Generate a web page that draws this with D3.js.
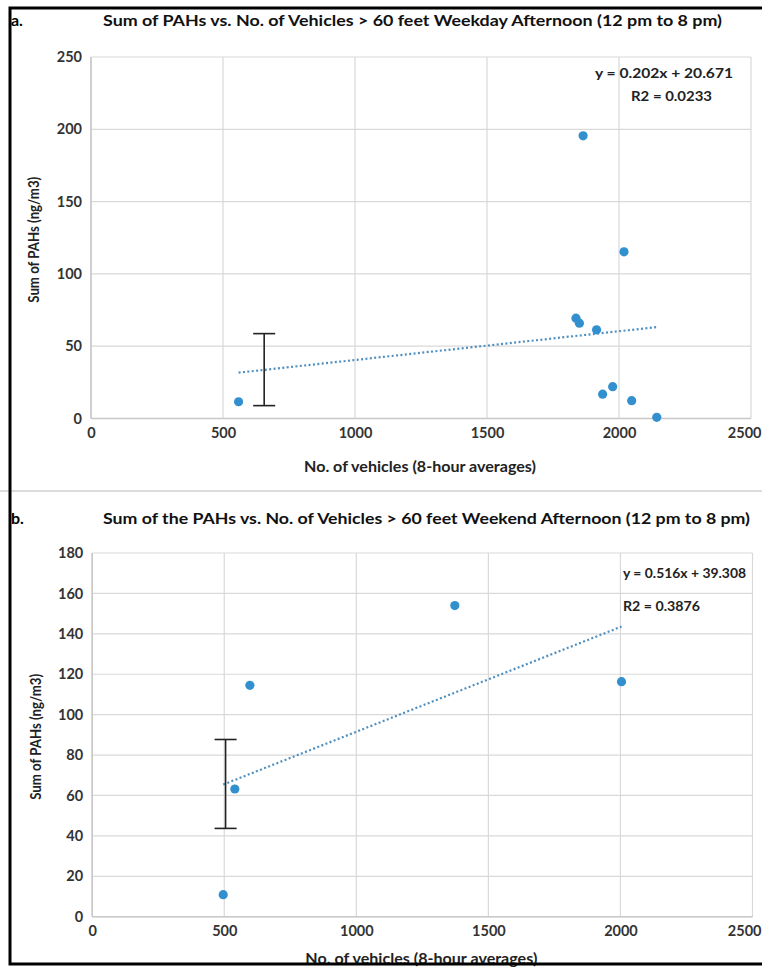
<!DOCTYPE html>
<html>
<head>
<meta charset="utf-8">
<script src="https://cdn.jsdelivr.net/npm/d3@7"></script>
<style>
  body { margin: 0; background: #fff; }
  svg { display: block; font-family: Lato, "Open Sans", sans-serif; }
</style>
</head>
<body>
<svg id="chart" width="762" height="967"></svg>
<script>
// ---- data ----
// panel a: weekday afternoon
var weekdayVehicles = [559, 1837, 1850, 1864, 1915, 1938, 1976, 2019, 2048, 2143];
var weekdayPAHs     = [11.6, 69.4, 65.9, 195.5, 61.3, 16.8, 22.0, 115.3, 12.3, 0.8];
var weekdayTrendX   = [559, 2143];
var weekdayTrendY   = [31.7, 63.2];
var weekdayErrX     = 656;
var weekdayErrY     = [8.9, 58.7];
var weekdayEquation = ["y =  0.202x + 20.671", "R2 = 0.0233"];

// panel b: weekend afternoon
var weekendVehicles = [496, 540, 597, 1373, 2004];
var weekendPAHs     = [10.9, 63.2, 114.5, 154.0, 116.3];
var weekendTrendX   = [496, 2004];
var weekendTrendY   = [65.4, 143.6];
var weekendErrX     = 505;
var weekendErrY     = [43.7, 87.7];
var weekendEquation = ["y = 0.516x + 39.308", "R2 = 0.3876"];

// axes
var xTicks        = [0, 500, 1000, 1500, 2000, 2500];
var weekdayYTicks = [0, 50, 100, 150, 200, 250];
var weekendYTicks = [0, 20, 40, 60, 80, 100, 120, 140, 160, 180];

var svg = d3.select('#chart');

svg.append('rect')
    .attr('width', 762)
    .attr('height', 967)
    .attr('fill', '#fff');

/**
 * Draws one scatter panel.
 */
function drawPanel(p) {
    var g = svg.append('g');

    var x = d3.scaleLinear().domain([0, 2500]).range([p.left, p.right]);
    var y = d3.scaleLinear().domain([0, p.yMax]).range([p.bottom, p.top]);

    // gridlines
    g.append('g').selectAll('line')
        .data(p.yTicks)
        .enter().append('line')
        .attr('x1', p.left).attr('x2', p.right)
        .attr('y1', d => y(d)).attr('y2', d => y(d))
        .attr('stroke', '#d9d9d9')
        .attr('stroke-width', 1.2);

    g.append('g').selectAll('line')
        .data(xTicks)
        .enter().append('line')
        .attr('x1', d => x(d)).attr('x2', d => x(d))
        .attr('y1', p.top).attr('y2', p.bottom)
        .attr('stroke', '#d9d9d9')
        .attr('stroke-width', 1.2);

    // axis lines
    g.append('line')
        .attr('x1', p.left).attr('x2', p.right)
        .attr('y1', p.bottom).attr('y2', p.bottom)
        .attr('stroke', '#c8c8c8').attr('stroke-width', 1.6);
    g.append('line')
        .attr('x1', p.left).attr('x2', p.left)
        .attr('y1', p.top).attr('y2', p.bottom)
        .attr('stroke', '#c8c8c8').attr('stroke-width', 1.6);

    // tick labels
    var xAxis = g.append('g')
        .attr('transform', 'translate(0,' + p.bottom + ')')
        .call(d3.axisBottom(x).tickValues(xTicks).tickFormat(d3.format('d')).tickSize(0).tickPadding(9));
    var yAxis = g.append('g')
        .attr('transform', 'translate(' + p.left + ',0)')
        .call(d3.axisLeft(y).tickValues(p.yTicks).tickFormat(d3.format('d')).tickSize(0).tickPadding(9));
    [xAxis, yAxis].forEach(function (a) {
        a.select('.domain').remove();
        a.selectAll('text')
            .attr('font-family', 'Lato, sans-serif')
            .attr('font-size', 14.5)
            .attr('font-weight', 'bold')
            .attr('fill', '#333');
    });
    // last x label sits at the right edge; keep it inside the page
    xAxis.selectAll('.tick')
        .filter(d => d === 2500)
        .select('text')
        .attr('text-anchor', 'end')
        .attr('x', 761 - x(2500));

    // trend line (dotted)
    g.append('line')
        .attr('x1', x(p.trendX[0])).attr('y1', y(p.trendY[0]))
        .attr('x2', x(p.trendX[1])).attr('y2', y(p.trendY[1]))
        .attr('stroke', '#4f8fbf')
        .attr('stroke-width', 2.2)
        .attr('stroke-dasharray', '2,2.4');

    // error bar
    var cap = 11;
    var eb = g.append('g')
        .attr('stroke', '#222')
        .attr('stroke-width', 1.6);
    eb.append('line')
        .attr('x1', x(p.errX)).attr('x2', x(p.errX))
        .attr('y1', y(p.errY[0])).attr('y2', y(p.errY[1]));
    p.errY.forEach(function (v) {
        eb.append('line')
            .attr('x1', x(p.errX) - cap).attr('x2', x(p.errX) + cap)
            .attr('y1', y(v)).attr('y2', y(v));
    });

    // points
    g.append('g').selectAll('circle')
        .data(p.xs.map((v, i) => [v, p.ys[i]]))
        .enter().append('circle')
        .attr('cx', d => x(d[0]))
        .attr('cy', d => y(d[1]))
        .attr('r', 4.6)
        .attr('fill', '#3390cf');

    // equation text
    g.selectAll('text.eq')
        .data(p.eq)
        .enter().append('text')
        .attr('class', 'eq')
        .attr('x', (d, i) => p.eqX[i])
        .attr('y', (d, i) => p.eqY[i])
        .attr('font-size', 13.5)
        .attr('font-weight', 'bold')
        .attr('fill', '#222')
        .attr('textLength', (d, i) => p.eqW[i])
        .attr('lengthAdjust', 'spacingAndGlyphs')
        .text(d => d);

    // titles
    g.append('text')
        .attr('x', p.titleX).attr('y', p.titleY)
        .attr('font-size', 15.5)
        .attr('font-weight', 'bold')
        .attr('fill', '#111')
        .attr('textLength', p.titleW)
        .attr('lengthAdjust', 'spacingAndGlyphs')
        .text(p.title);

    g.append('text')
        .attr('x', 11).attr('y', p.titleY)
        .attr('font-size', 16)
        .attr('font-weight', 'bold')
        .attr('fill', '#000')
        .text(p.tag);

    g.append('text')
        .attr('x', (p.left + p.right) / 2 - 1)
        .attr('y', p.xTitleY)
        .attr('text-anchor', 'middle')
        .attr('font-size', 16)
        .attr('font-weight', 'bold')
        .attr('fill', '#222')
        .attr('textLength', 232)
        .attr('lengthAdjust', 'spacingAndGlyphs')
        .text('No. of vehicles (8-hour averages)');

    g.append('text')
        .attr('transform', 'translate(' + p.yTitleX + ',' + ((p.top + p.bottom) / 2 + 2) + ') rotate(-90)')
        .attr('text-anchor', 'middle')
        .attr('font-size', 16)
        .attr('font-weight', 'bold')
        .attr('fill', '#222')
        .attr('textLength', 126)
        .attr('lengthAdjust', 'spacingAndGlyphs')
        .text('Sum of PAHs (ng/m3)');
}

drawPanel({
    tag: 'a.',
    title: 'Sum of PAHs vs. No. of Vehicles > 60 feet Weekday Afternoon (12 pm to 8 pm)',
    titleX: 103, titleY: 26, titleW: 619,
    left: 91, right: 751, top: 57, bottom: 418.5,
    yMax: 250, yTicks: weekdayYTicks,
    xs: weekdayVehicles, ys: weekdayPAHs,
    trendX: weekdayTrendX, trendY: weekdayTrendY,
    errX: weekdayErrX, errY: weekdayErrY,
    eq: weekdayEquation, eqX: [595, 631], eqY: [78, 101], eqW: [138, 81],
    xTitleY: 472, yTitleX: 39
});

drawPanel({
    tag: 'b.',
    title: 'Sum of the PAHs vs. No. of Vehicles > 60 feet Weekend Afternoon (12 pm to 8 pm)',
    titleX: 103, titleY: 524, titleW: 647,
    left: 92.2, right: 752.5, top: 553, bottom: 916.7,
    yMax: 180, yTicks: weekendYTicks,
    xs: weekendVehicles, ys: weekendPAHs,
    trendX: weekendTrendX, trendY: weekendTrendY,
    errX: weekendErrX, errY: weekendErrY,
    eq: weekendEquation, eqX: [623, 623], eqY: [578, 611], eqW: [123, 77],
    xTitleY: 964, yTitleX: 41
});

// frame around both panels
svg.append('line')
    .attr('x1', 0).attr('x2', 762).attr('y1', 491).attr('y2', 491)
    .attr('stroke', '#d0d0d0').attr('stroke-width', 1.5);
svg.append('path')
    .attr('d', 'M762,8 H10 V964 H762')
    .attr('fill', 'none')
    .attr('stroke', '#000')
    .attr('stroke-width', 3);
</script>
</body>
</html>
